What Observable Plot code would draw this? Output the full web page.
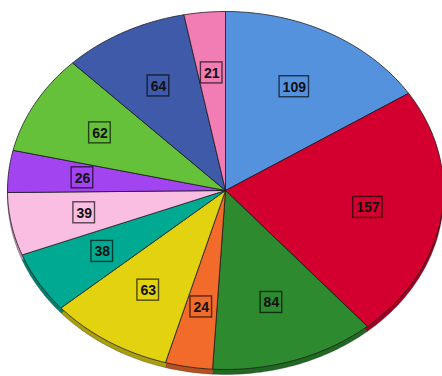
<!DOCTYPE html>
<html>
<head>
<meta charset="utf-8">
<script src="https://cdn.jsdelivr.net/npm/d3@7"></script>
<script src="https://cdn.jsdelivr.net/npm/@observablehq/plot@0.6"></script>
<style>
  html, body { margin: 0; padding: 0; background: #fff; }
  #chart svg { display: block; }
</style>
</head>
<body>
<div id="chart"></div>
<script>
// Slice data, clockwise from 12 o'clock
const values = [109, 157, 84, 24, 63, 38, 39, 26, 62, 64, 21];
const labels = ["109", "157", "84", "24", "63", "38", "39", "26", "62", "64", "21"];
const colors = ["#5592DD", "#D3002F", "#2D8A2E", "#F26B2A", "#E2D210", "#00AA92",
                "#F9BEE2", "#A244F0", "#66C13A", "#3E5AA9", "#F27CB4"];

const W = 442, H = 376;
const xRange = [7, 443], yRange = [369, 11];
const pxX = (xRange[1] - xRange[0]) / 2;   // px per data unit in x
const pxY = (yRange[0] - yRange[1]) / 2;   // px per data unit in y
const depth = 5 / pxY;                     // 3D rim thickness
const labelR = 0.66;

const total = d3.sum(values);
let acc = 0;
const slices = values.map((v, i) => {
  const a0 = acc / total * 2 * Math.PI;
  acc += v;
  const a1 = acc / total * 2 * Math.PI;
  const n = Math.max(2, Math.ceil((a1 - a0) / (Math.PI / 180)));
  const pts = [{x: 0, y: 0}];
  for (let k = 0; k <= n; k++) {
    const t = a0 + (a1 - a0) * k / n;
    pts.push({x: Math.sin(t), y: Math.cos(t)});
  }
  pts.push({x: 0, y: 0});
  const mid = (a0 + a1) / 2;
  return {i, color: colors[i], label: labels[i], pts,
          rim: pts.map(p => ({x: p.x, y: p.y - depth})),
          lx: labelR * Math.sin(mid), ly: labelR * Math.cos(mid)};
});

const labelData = slices.map(s => {
  const w = 6 + 7.8 * s.label.length;
  return {x: s.lx, y: s.ly, text: s.label,
          x1: s.lx - w / 2 / pxX, x2: s.lx + w / 2 / pxX,
          y1: s.ly - 10.5 / pxY, y2: s.ly + 10.5 / pxY};
});

const marks = [];
// rim (side) drawn first, shifted down, darker
slices.forEach(s => {
  marks.push(Plot.line(s.rim, {x: "x", y: "y", fill: d3.color(s.color).darker(0.8).formatHex(),
    stroke: "#222", strokeWidth: 0.6, strokeOpacity: 0.5, curve: "linear"}));
});
// top surface
slices.forEach(s => {
  marks.push(Plot.line(s.pts, {x: "x", y: "y", fill: s.color,
    stroke: "#1a1a1a", strokeWidth: 0.9, strokeOpacity: 0.85, strokeLinejoin: "round", curve: "linear"}));
});
// label boxes and text
marks.push(Plot.rect(labelData, {x1: "x1", x2: "x2", y1: "y1", y2: "y2",
  fill: "none", stroke: "#000", strokeOpacity: 0.65, strokeWidth: 1.4}));
marks.push(Plot.text(labelData, {x: "x", y: "y", text: "text", fill: "#111",
  fontWeight: "bold", fontSize: 14, dy: 0.5}));

const chart = Plot.plot({
  width: W, height: H,
  margin: 0,
  x: {domain: [-1, 1], range: xRange, axis: null},
  y: {domain: [-1, 1], range: yRange, axis: null},
  style: {fontFamily: "Liberation Sans", background: "#fff"},
  marks
});
document.getElementById("chart").appendChild(chart);
</script>
</body>
</html>
